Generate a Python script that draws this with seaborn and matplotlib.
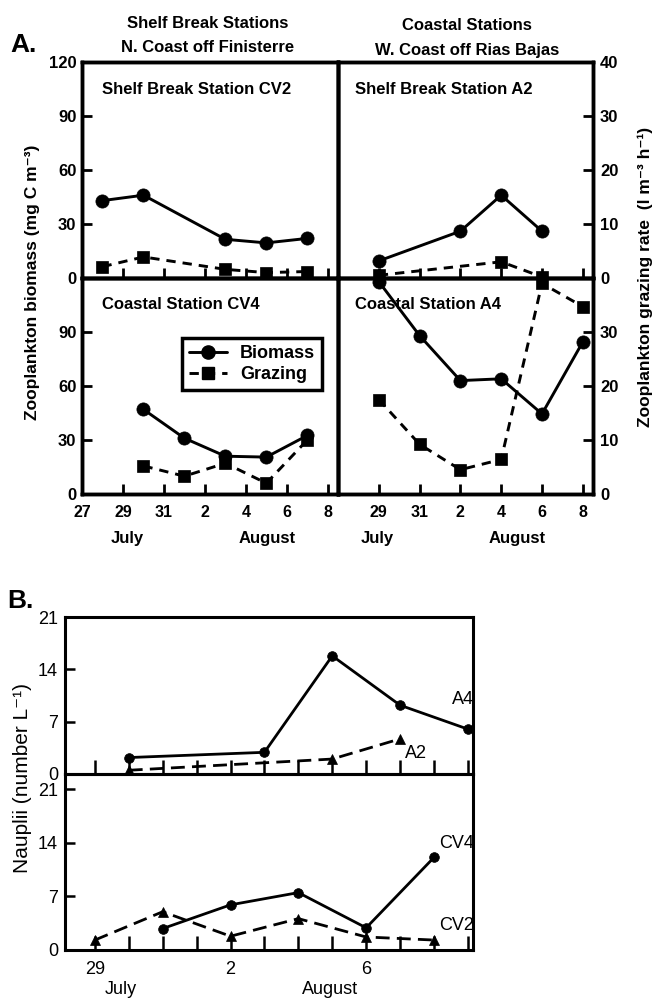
import matplotlib
matplotlib.use("Agg")
import matplotlib.pyplot as plt
from matplotlib.lines import Line2D
import seaborn as sns

sns.set_theme(style="ticks")
plt.rcParams["font.family"] = ["Liberation Sans", "DejaVu Sans"]
plt.rcParams["axes.edgecolor"] = "black"
plt.rcParams["xtick.color"] = "black"
plt.rcParams["ytick.color"] = "black"
plt.rcParams["xtick.labelcolor"] = "black"
plt.rcParams["ytick.labelcolor"] = "black"
plt.rcParams["text.color"] = "black"
plt.rcParams["axes.labelcolor"] = "black"

# ---------------- data ----------------
# days counted from July 0 (July d -> d, August d -> 31 + d)
cv2_days = [28, 30, 34, 36, 38]
cv2_biomass = [43, 46, 21.5, 19.5, 22]
cv2_grazing = [2.1, 3.9, 1.6, 1.0, 1.2]

a2_bio_days = [29, 33, 35, 37]
a2_biomass = [9.5, 26, 46, 26]
a2_graz_days = [29, 35, 37]
a2_grazing = [0.5, 3.0, 0.2]

cv4_days = [30, 32, 34, 36, 38]
cv4_biomass = [47, 31, 21, 20.5, 32.5]
cv4_grazing = [5.2, 3.3, 5.7, 2.0, 10.0]

a4_days = [29, 31, 33, 35, 37, 39]
a4_biomass = [118, 88, 63, 64, 44.5, 84.5]
a4_grazing = [17.5, 9.2, 4.5, 6.4, 39, 34.7]

a_ticks = [27, 29, 31, 33, 35, 37, 39]
a_ticklabels = ["27", "29", "31", "2", "4", "6", "8"]

b_a4_days = [30, 34, 36, 38, 40]
b_a4 = [2.2, 2.9, 15.8, 9.2, 6.0]
b_a2_days = [30, 36, 38]
b_a2 = [0.5, 2.0, 4.7]
b_cv4_days = [31, 33, 35, 37, 39]
b_cv4 = [2.8, 5.9, 7.5, 2.9, 12.1]
b_cv2_days = [29, 31, 33, 35, 37, 39]
b_cv2 = [1.3, 5.0, 1.8, 4.1, 1.7, 1.3]

b_ticks = list(range(29, 41))
b_ticklabels = ["29", "", "", "", "2", "", "", "", "6", "", "", ""]

# ---------------- layout ----------------
W, H = 654, 1002
fig = plt.figure(figsize=(W / 100, H / 100), dpi=100)
fig.patch.set_facecolor("white")


def px_axes(x0, y0, x1, y1):
    return fig.add_axes([x0 / W, 1 - y1 / H, (x1 - x0) / W, (y1 - y0) / H])


def ftxt(x, y, s, **kw):
    fig.text(x / W, 1 - y / H, s, color="black", **kw)


LX0, MX, RX1 = 82, 338, 593
TY, MY, BY = 62, 278, 494

BOLD = dict(fontweight="bold")
A_LW = 2.1
A_DASH = (0, (3.2, 2.4))


def style_axis(ax, lw=2.5):
    for s in ax.spines.values():
        s.set_linewidth(lw)
        s.set_color("black")
    ax.set_facecolor("none")
    ax.grid(False)


def panel_a(box, bio_x, bio_y, gz_x, gz_y, label, left, bottom):
    ax = px_axes(*box)
    axg = ax.twinx()
    sns.lineplot(x=bio_x, y=bio_y, ax=ax, color="black", linewidth=A_LW,
                 marker="o", markersize=9.5, markeredgecolor="black",
                 markeredgewidth=0.5, sort=False)
    sns.lineplot(x=gz_x, y=gz_y, ax=axg, color="black", linewidth=A_LW,
                 linestyle=A_DASH, marker="s", markersize=8,
                 markeredgecolor="black", markeredgewidth=0.5, sort=False)
    for a in (ax, axg):
        style_axis(a)
        a.set_xlim(27, 39.5)
        a.set_xlabel("")
        a.set_ylabel("")
    ax.set_ylim(0, 120)
    axg.set_ylim(0, 40)
    ax.set_xticks(a_ticks)
    ax.tick_params(axis="x", direction="in", length=7, width=2, pad=8,
                   labelsize=11.5, top=False)
    if bottom:
        ax.set_xticklabels(a_ticklabels if left else [""] + a_ticklabels[1:],
                           fontweight="bold")
    else:
        ax.set_xticklabels([])
    if left:
        ax.set_yticks([0, 30, 60, 90, 120] if not bottom else [0, 30, 60, 90])
        ax.tick_params(axis="y", direction="in", length=7, width=2, pad=4,
                       labelsize=12)
        for t in ax.get_yticklabels():
            t.set_fontweight("bold")
        axg.set_yticks([])
    else:
        ax.set_yticks([])
        axg.set_yticks([0, 10, 20, 30, 40] if not bottom else [0, 10, 20, 30])
        axg.tick_params(axis="y", direction="in", length=7, width=2, pad=5,
                        labelsize=12)
        for t in axg.get_yticklabels():
            t.set_fontweight("bold")
    ax.text(0.08 if left else 0.065, 0.875, label, transform=ax.transAxes,
            fontsize=12, fontweight="bold", va="center", ha="left", zorder=1,
            color="black")
    return ax, axg


panel_a((LX0, TY, MX, MY), cv2_days, cv2_biomass, cv2_days, cv2_grazing,
        "Shelf Break Station CV2", True, False)
panel_a((MX, TY, RX1, MY), a2_bio_days, a2_biomass, a2_graz_days, a2_grazing,
        "Shelf Break Station A2", False, False)
ax_cv4, _ = panel_a((LX0, MY, MX, BY), cv4_days, cv4_biomass, cv4_days,
                    cv4_grazing, "Coastal Station CV4", True, True)
panel_a((MX, MY, RX1, BY), a4_days, a4_biomass, a4_days, a4_grazing,
        "Coastal Station A4", False, True)

handles = [
    Line2D([], [], color="black", lw=A_LW, marker="o", markersize=9.5),
    Line2D([], [], color="black", lw=A_LW, linestyle=A_DASH, marker="s",
           markersize=8),
]
leg = fig.legend(handles, ["Biomass", "Grazing"], loc="upper left",
                 bbox_to_anchor=(182 / W, 1 - 338 / H), frameon=True,
                 fancybox=False, edgecolor="black", framealpha=1,
                 prop=dict(size=13, weight="bold"), handlelength=2.1,
                 borderpad=0.4, labelspacing=0.2, handletextpad=0.7,
                 borderaxespad=0)
leg.get_frame().set_linewidth(2.5)
for t in leg.get_texts():
    t.set_color("black")

# titles and labels for panel A
ftxt(208, 23, "Shelf Break Stations", ha="center", va="center", fontsize=12, **BOLD)
ftxt(208, 47, "N. Coast off Finisterre", ha="center", va="center", fontsize=12, **BOLD)
ftxt(467, 25, "Coastal Stations", ha="center", va="center", fontsize=12, **BOLD)
ftxt(467, 50, "W. Coast off Rias Bajas", ha="center", va="center", fontsize=12, **BOLD)
ftxt(10, 45, "A.", ha="left", va="center", fontsize=19, **BOLD)
ftxt(33, 282, "Zooplankton biomass (mg C m⁻³)", rotation=90, ha="center",
     va="center", fontsize=12.5, **BOLD)
ftxt(645, 277, "Zooplankton grazing rate  (l m⁻³ h⁻¹)", rotation=90,
     ha="center", va="center", fontsize=12.5, **BOLD)
for xm, txt in [(127, "July"), (267, "August"), (377, "July"), (517, "August")]:
    ftxt(xm, 539, txt, ha="center", va="center", fontsize=12, **BOLD)

# ---------------- panel B ----------------
BX0, BX1 = 65, 473
BTY, BMY, BBY = 617, 774, 950
B_LW = 2.0
B_DASH = (0, (5, 2.6))

axb1 = px_axes(BX0, BTY, BX1, BMY)
axb2 = px_axes(BX0, BMY, BX1, BBY)

sns.lineplot(x=b_a4_days, y=b_a4, ax=axb1, color="black", linewidth=B_LW,
             marker="o", markersize=7, markeredgecolor="black",
             markeredgewidth=0.5, sort=False)
sns.lineplot(x=b_a2_days, y=b_a2, ax=axb1, color="black", linewidth=B_LW,
             linestyle=B_DASH, marker="^", markersize=7,
             markeredgecolor="black", markeredgewidth=0.5, sort=False)
sns.lineplot(x=b_cv4_days, y=b_cv4, ax=axb2, color="black", linewidth=B_LW,
             marker="o", markersize=7, markeredgecolor="black",
             markeredgewidth=0.5, sort=False)
sns.lineplot(x=b_cv2_days, y=b_cv2, ax=axb2, color="black", linewidth=B_LW,
             linestyle=B_DASH, marker="^", markersize=7,
             markeredgecolor="black", markeredgewidth=0.5, sort=False)

for ax, top in ((axb1, 21), (axb2, 23)):
    style_axis(ax, 2.2)
    ax.set_xlim(28.12, 40.15)
    ax.set_ylim(0, top)
    ax.set_xlabel("")
    ax.set_ylabel("")
    ax.set_xticks(b_ticks)
    ax.set_yticks([0, 7, 14, 21])
    ax.tick_params(axis="x", direction="in", length=10, width=1.8, pad=8,
                   labelsize=13)
    ax.tick_params(axis="y", direction="in", length=7, width=1.8, pad=5,
                   labelsize=13)
axb1.set_xticklabels([])
axb2.set_xticklabels(b_ticklabels)

ftxt(452, 700, "A4", ha="left", va="center", fontsize=13)
ftxt(405, 753, "A2", ha="left", va="center", fontsize=13)
ftxt(439, 843, "CV4", ha="left", va="center", fontsize=13)
ftxt(439, 925, "CV2", ha="left", va="center", fontsize=13)
ftxt(7, 601, "B.", ha="left", va="center", fontsize=19, **BOLD)
ftxt(23, 778, "Nauplii (number L⁻¹)", rotation=90, ha="center", va="center",
     fontsize=15)
ftxt(121, 990, "July", ha="center", va="center", fontsize=13)
ftxt(330, 990, "August", ha="center", va="center", fontsize=13)

fig.savefig("out.png", dpi=100, facecolor="white")
